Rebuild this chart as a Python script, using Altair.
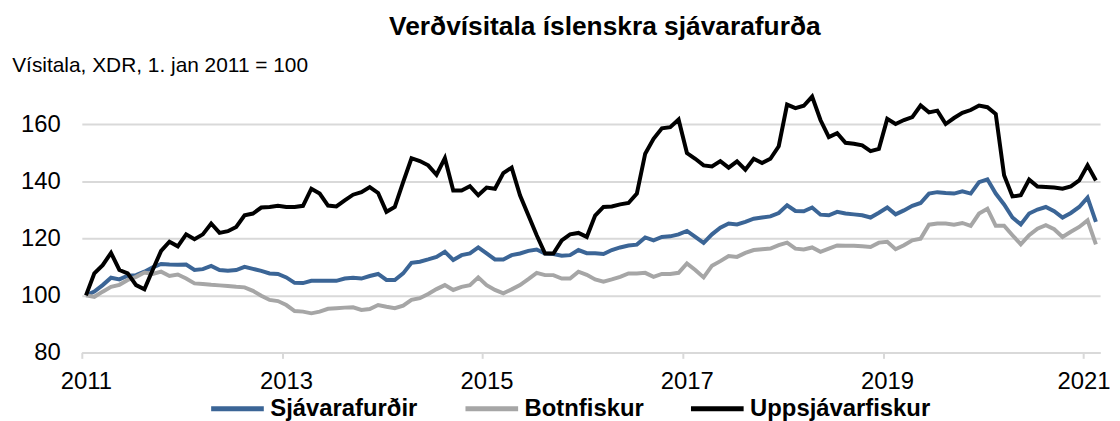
import altair as alt
import pandas as pd

series_names = ["Sjávarafurðir", "Botnfiskur", "Uppsjávarfiskur"]
series_colors = ["#3b6596", "#a6a6a6", "#000000"]

# monthly values, Jan 2011 - Feb 2021
sjavarafurdir = [
    100, 101.3, 103.6, 106.2, 105.6, 106.9, 107.1, 108.3, 109.8, 111, 110.8, 110.7,
    110.8, 108.9, 109.2, 110.3, 108.9, 108.6, 108.9, 110, 109.3, 108.6, 107.7, 107.5,
    106.3, 104.4, 104.3, 105.1, 105.1, 105.1, 105.1, 105.9, 106.2, 105.9, 106.8, 107.5,
    105.4, 105.4, 107.7, 111.4, 111.8, 112.6, 113.5, 115.3, 112.4, 114.1, 114.7, 116.8,
    114.7, 112.6, 112.6, 114.1, 114.7, 115.6, 116.1, 114.7, 114.5, 113.9, 114.1, 115.9,
    114.8, 114.8, 114.5, 115.9, 116.8, 117.5, 117.8, 120.3, 119.3, 120.5, 120.7, 121.4,
    122.6, 120.5, 118.4, 121.4, 123.7, 125.2, 124.9, 125.8, 126.9, 127.3, 127.7, 128.9,
    131.6, 129.6, 129.5, 130.8, 128.3, 128.1, 129.3, 128.7, 128.4, 128.1, 127.3, 129,
    130.8, 128.4, 129.8, 131.4, 132.4, 135.7, 136.2, 135.9, 135.7, 136.5, 135.7, 139.7,
    140.7, 135.7, 131.9, 127.3, 124.9, 128.7, 130.1, 131, 129.5, 127.3, 128.9, 131,
    134.3, 125.8,
]
botnfiskur = [
    100, 99.5, 101.3, 103, 103.7, 105.4, 106.5, 108, 107.5, 108.3, 106.8, 107.3,
    105.9, 104.2, 104, 103.7, 103.5, 103.3, 103, 102.8, 101.6, 99.9, 98.4, 98,
    96.6, 94.5, 94.3, 93.7, 94.3, 95.3, 95.5, 95.7, 95.8, 94.9, 95.2, 96.6,
    96, 95.5, 96.4, 98.4, 99, 100.5, 102.2, 103.6, 101.9, 103, 103.6, 106.3,
    103.6, 101.9, 100.7, 102.1, 103.6, 105.7, 107.9, 107.1, 107.1, 105.9, 105.9, 108.3,
    107.2, 105.6, 104.8, 105.6, 106.5, 107.7, 107.7, 107.9, 106.5, 107.5, 107.5, 107.9,
    111.2, 108.9, 106.3, 110.4, 112, 113.8, 113.5, 114.9, 115.9, 116.2, 116.4, 117.6,
    118.5, 116.4, 116.1, 116.8, 115.3, 116.4, 117.5, 117.4, 117.4, 117.2, 117, 118.5,
    118.8, 116.2, 117.6, 119.3, 119.9, 124.8, 125.2, 125.2, 124.8, 125.4, 124.4, 128.7,
    130.4, 124.4, 124.4, 121.1, 117.9, 121.1, 123.4, 124.6, 123.2, 120.5, 122.3, 124,
    126.3, 117.9,
]
uppsjavarfiskur = [
    100, 107.7, 110.6, 114.9, 108.9, 107.7, 103.6, 102.1, 109, 115.6, 118.8, 117.2,
    121.4, 119.7, 121.4, 125.2, 121.9, 122.5, 124, 128.1, 128.7, 130.8, 131, 131.4,
    131, 131, 131.4, 137.4, 135.7, 131.5, 131.2, 133.3, 135.3, 136.2, 138, 135.9,
    129.3, 131, 139.7, 148.1, 147.1, 145.6, 142.3, 148.1, 136.8, 136.8, 138.3, 135.1,
    137.8, 137.4, 142.9, 144.8, 135.1, 128.1, 121.1, 114.7, 114.7, 119.3, 121.4, 121.9,
    120.5, 128, 131, 131.2, 131.9, 132.4, 135.7, 149.7, 154.9, 158.6, 159, 161.7,
    149.9, 147.9, 145.6, 145.2, 147.1, 144.8, 147, 144.1, 147.9, 146.4, 147.9, 152.3,
    166.9, 165.7, 166.5, 169.7, 161.5, 155.5, 156.9, 153.5, 153.2, 152.6, 150.6, 151.4,
    161.9, 160.1, 161.5, 162.5, 166.6, 164.2, 164.8, 160.1, 162.2, 164, 165, 166.6,
    166, 163.6, 142.1, 134.7, 135.1, 140.6, 138.2, 138, 137.8, 137.4, 138.2, 140.3,
    145.6, 140.3,
]

year_ticks = [2011, 2013, 2015, 2017, 2019, 2021]
y_ticks = [80, 100, 120, 140, 160]

rows = []
for name, vals in zip(series_names, [sjavarafurdir, botnfiskur, uppsjavarfiskur]):
    for i, v in enumerate(vals):
        rows.append({"series": name, "t": 2011 + (i + 0.5) / 12, "v": v})
df = pd.DataFrame(rows)

FONT = "Liberation Sans"
GRID = "#d9d9d9"

chart = (
    alt.Chart(df)
    .mark_line(strokeWidth=4)
    .encode(
        x=alt.X(
            "t:Q",
            scale=alt.Scale(domain=[2011, 2021 + 2 / 12], nice=False, zero=False),
            axis=alt.Axis(
                values=year_ticks, format="d", title=None, grid=False,
                domainColor=GRID, domainWidth=2, tickColor=GRID, tickWidth=2, tickSize=6,
                labelFontSize=24, labelFont=FONT, labelColor="#000", labelPadding=11,
                labelOffset={"condition": {"test": "datum.value == 2021", "value": 0}, "value": 4},
                labelFlush=False, labelOverlap=False,
            ),
        ),
        y=alt.Y(
            "v:Q",
            scale=alt.Scale(domain=[80, 180], nice=False, zero=False),
            axis=alt.Axis(
                values=y_ticks, title="Vísitala, XDR, 1. jan 2011 = 100",
                titleAngle=0, titleX=-70.6, titleY=4.4, titleAlign="left",
                titleBaseline="alphabetic", titleFontSize=21, titleFontWeight="normal",
                titleFont=FONT, titleColor="#000",
                domain=False, ticks=False, grid=True, gridColor=GRID, gridWidth=2,
                labelFontSize=24, labelFont=FONT, labelColor="#000", labelPadding=21.6,
            ),
        ),
        color=alt.Color(
            "series:N",
            scale=alt.Scale(domain=series_names, range=series_colors),
            legend=alt.Legend(
                title=None, orient="none", legendX=127.7, legendY=314.7,
                direction="horizontal", symbolType="stroke", symbolSize=2809,
                symbolStrokeWidth=5, labelFontSize=24, labelFontWeight="bold",
                labelFont=FONT, labelColor="#000", labelOffset=4, columnPadding=37,
                labelLimit=400,
            ),
        ),
    )
    .properties(
        width=1025,
        height=287,
        title=alt.TitleParams(
            "Verðvísitala íslenskra sjávarafurða", fontSize=26.5, font=FONT,
            fontWeight="bold", color="#000", anchor="middle", dx=14, offset=14,
        ),
        autosize=alt.AutoSizeParams(type="none"),
        padding={"left": 74.3, "top": 58.3, "right": 12, "bottom": 67.7},
    )
    .configure_view(stroke=None)
)

chart.save("out.html", embed_options={"renderer": "svg", "actions": False})
